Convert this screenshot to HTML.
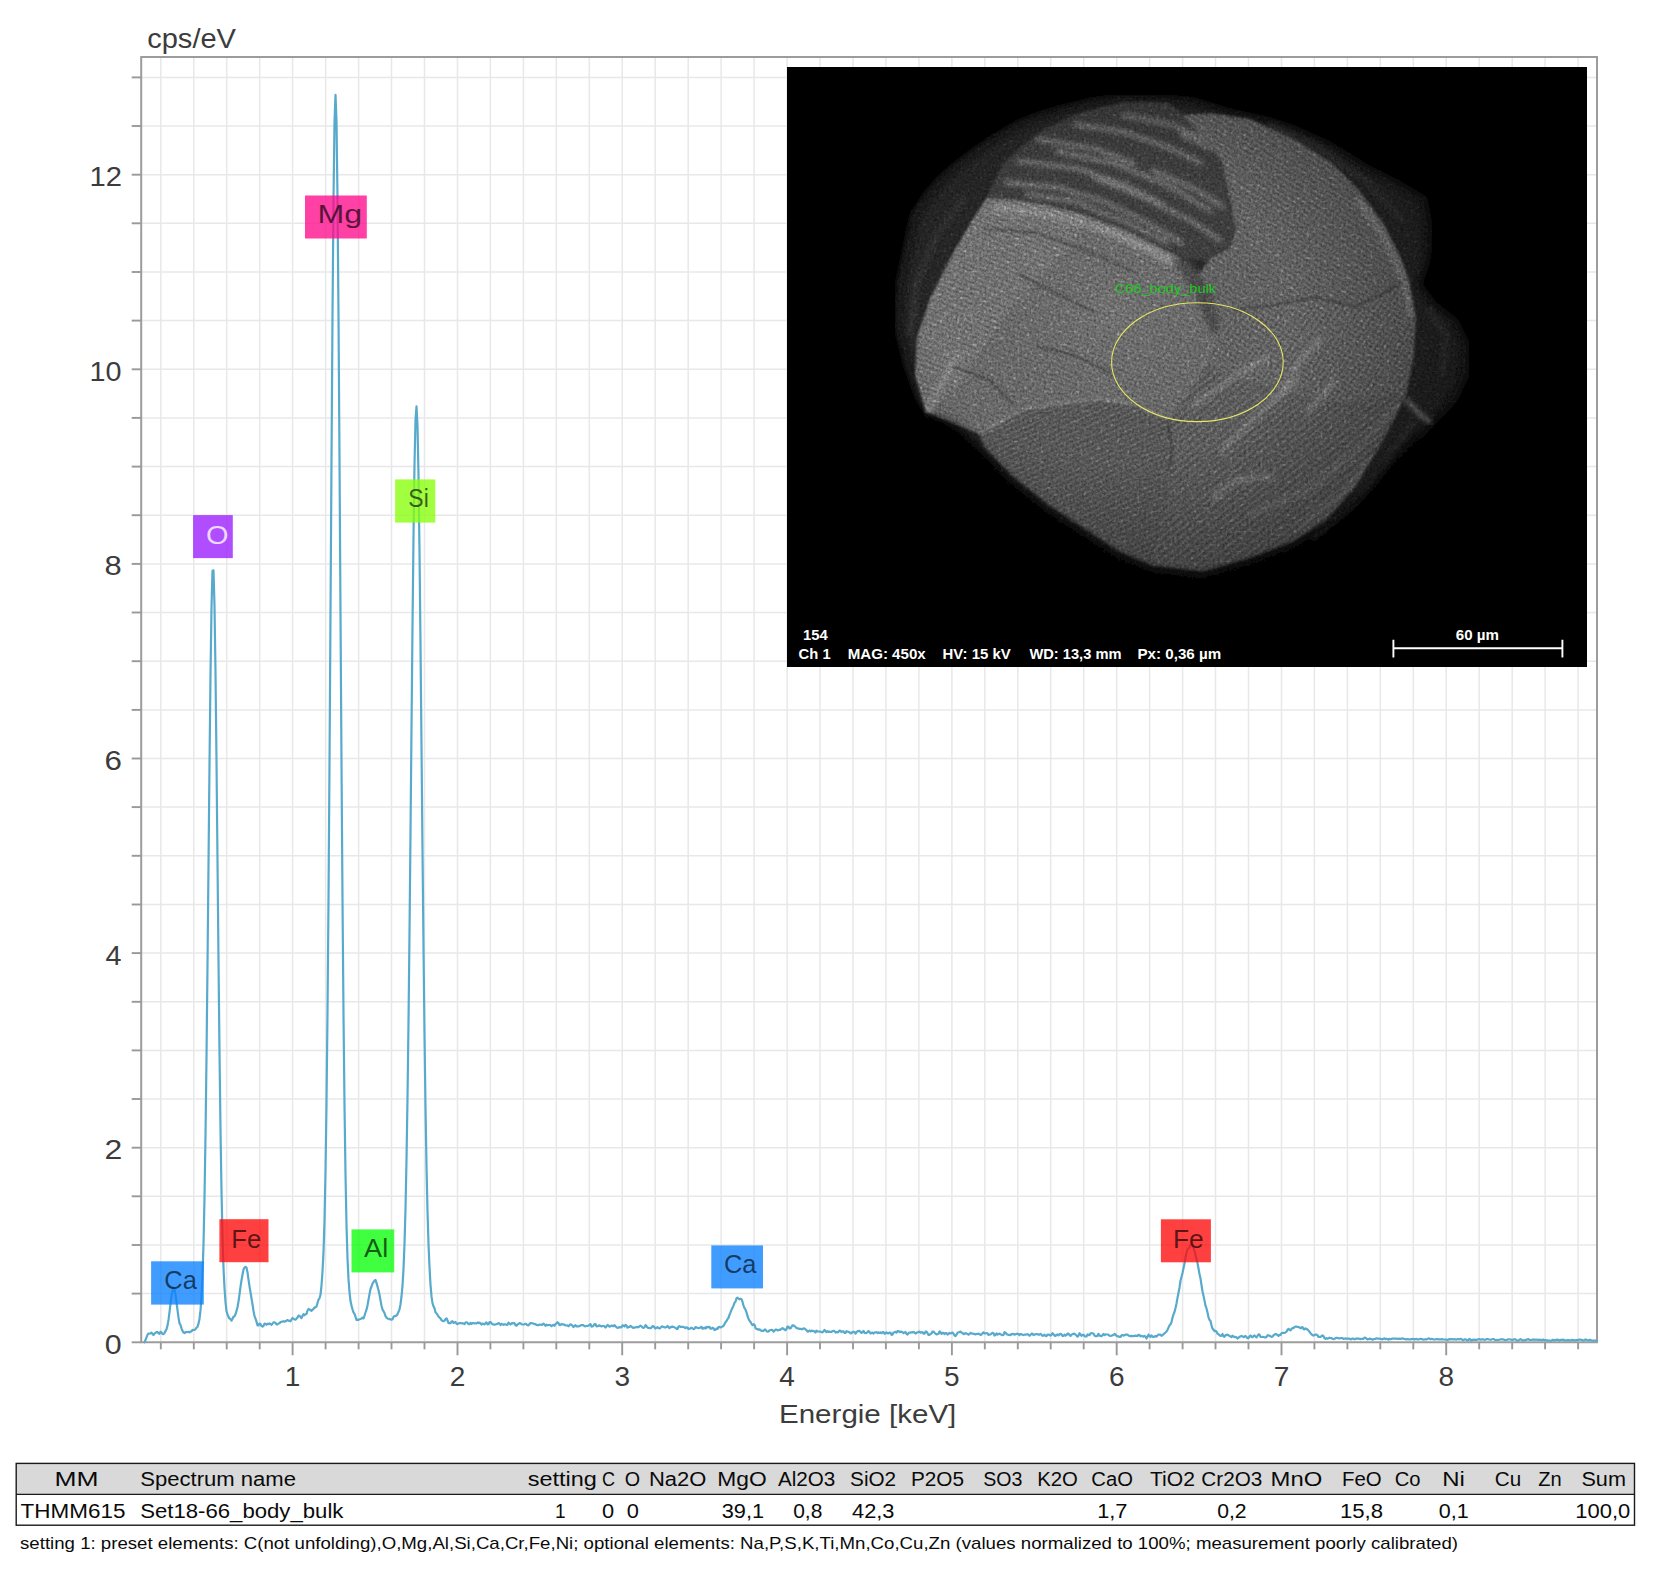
<!DOCTYPE html>
<html lang="de"><head><meta charset="utf-8"><title>EDS Spektrum Set18-66_body_bulk</title>
<style>
html,body{margin:0;padding:0;background:#fff;}
body{width:1662px;height:1590px;overflow:hidden;font-family:"Liberation Sans", sans-serif;}
svg{display:block;}
text{font-family:"Liberation Sans", sans-serif;}
.ax{fill:#3c3c3c;}
.tb{fill:#0a0a0a;}
.sem{fill:#fff;font-weight:bold;}
</style></head><body>
<svg width="1662" height="1590" viewBox="0 0 1662 1590">
<rect x="0" y="0" width="1662" height="1590" fill="#fff"/>

<g id="grid" stroke="#e8e8e8" stroke-width="1.5" fill="none">
<line x1="160.8" y1="57.0" x2="160.8" y2="1342.3"/>
<line x1="193.8" y1="57.0" x2="193.8" y2="1342.3"/>
<line x1="226.7" y1="57.0" x2="226.7" y2="1342.3"/>
<line x1="259.7" y1="57.0" x2="259.7" y2="1342.3"/>
<line x1="292.6" y1="57.0" x2="292.6" y2="1342.3"/>
<line x1="325.6" y1="57.0" x2="325.6" y2="1342.3"/>
<line x1="358.6" y1="57.0" x2="358.6" y2="1342.3"/>
<line x1="391.5" y1="57.0" x2="391.5" y2="1342.3"/>
<line x1="424.5" y1="57.0" x2="424.5" y2="1342.3"/>
<line x1="457.5" y1="57.0" x2="457.5" y2="1342.3"/>
<line x1="490.4" y1="57.0" x2="490.4" y2="1342.3"/>
<line x1="523.4" y1="57.0" x2="523.4" y2="1342.3"/>
<line x1="556.3" y1="57.0" x2="556.3" y2="1342.3"/>
<line x1="589.3" y1="57.0" x2="589.3" y2="1342.3"/>
<line x1="622.2" y1="57.0" x2="622.2" y2="1342.3"/>
<line x1="655.2" y1="57.0" x2="655.2" y2="1342.3"/>
<line x1="688.2" y1="57.0" x2="688.2" y2="1342.3"/>
<line x1="721.1" y1="57.0" x2="721.1" y2="1342.3"/>
<line x1="754.1" y1="57.0" x2="754.1" y2="1342.3"/>
<line x1="787.1" y1="57.0" x2="787.1" y2="1342.3"/>
<line x1="820.0" y1="57.0" x2="820.0" y2="1342.3"/>
<line x1="853.0" y1="57.0" x2="853.0" y2="1342.3"/>
<line x1="885.9" y1="57.0" x2="885.9" y2="1342.3"/>
<line x1="918.9" y1="57.0" x2="918.9" y2="1342.3"/>
<line x1="951.9" y1="57.0" x2="951.9" y2="1342.3"/>
<line x1="984.8" y1="57.0" x2="984.8" y2="1342.3"/>
<line x1="1017.8" y1="57.0" x2="1017.8" y2="1342.3"/>
<line x1="1050.7" y1="57.0" x2="1050.7" y2="1342.3"/>
<line x1="1083.7" y1="57.0" x2="1083.7" y2="1342.3"/>
<line x1="1116.7" y1="57.0" x2="1116.7" y2="1342.3"/>
<line x1="1149.6" y1="57.0" x2="1149.6" y2="1342.3"/>
<line x1="1182.6" y1="57.0" x2="1182.6" y2="1342.3"/>
<line x1="1215.5" y1="57.0" x2="1215.5" y2="1342.3"/>
<line x1="1248.5" y1="57.0" x2="1248.5" y2="1342.3"/>
<line x1="1281.5" y1="57.0" x2="1281.5" y2="1342.3"/>
<line x1="1314.4" y1="57.0" x2="1314.4" y2="1342.3"/>
<line x1="1347.4" y1="57.0" x2="1347.4" y2="1342.3"/>
<line x1="1380.3" y1="57.0" x2="1380.3" y2="1342.3"/>
<line x1="1413.3" y1="57.0" x2="1413.3" y2="1342.3"/>
<line x1="1446.2" y1="57.0" x2="1446.2" y2="1342.3"/>
<line x1="1479.2" y1="57.0" x2="1479.2" y2="1342.3"/>
<line x1="1512.2" y1="57.0" x2="1512.2" y2="1342.3"/>
<line x1="1545.1" y1="57.0" x2="1545.1" y2="1342.3"/>
<line x1="1578.1" y1="57.0" x2="1578.1" y2="1342.3"/>
<line x1="141.2" y1="1293.6" x2="1597.0" y2="1293.6"/>
<line x1="141.2" y1="1245.0" x2="1597.0" y2="1245.0"/>
<line x1="141.2" y1="1196.3" x2="1597.0" y2="1196.3"/>
<line x1="141.2" y1="1147.7" x2="1597.0" y2="1147.7"/>
<line x1="141.2" y1="1099.0" x2="1597.0" y2="1099.0"/>
<line x1="141.2" y1="1050.4" x2="1597.0" y2="1050.4"/>
<line x1="141.2" y1="1001.8" x2="1597.0" y2="1001.8"/>
<line x1="141.2" y1="953.1" x2="1597.0" y2="953.1"/>
<line x1="141.2" y1="904.5" x2="1597.0" y2="904.5"/>
<line x1="141.2" y1="855.8" x2="1597.0" y2="855.8"/>
<line x1="141.2" y1="807.1" x2="1597.0" y2="807.1"/>
<line x1="141.2" y1="758.5" x2="1597.0" y2="758.5"/>
<line x1="141.2" y1="709.9" x2="1597.0" y2="709.9"/>
<line x1="141.2" y1="661.2" x2="1597.0" y2="661.2"/>
<line x1="141.2" y1="612.5" x2="1597.0" y2="612.5"/>
<line x1="141.2" y1="563.9" x2="1597.0" y2="563.9"/>
<line x1="141.2" y1="515.2" x2="1597.0" y2="515.2"/>
<line x1="141.2" y1="466.6" x2="1597.0" y2="466.6"/>
<line x1="141.2" y1="417.9" x2="1597.0" y2="417.9"/>
<line x1="141.2" y1="369.3" x2="1597.0" y2="369.3"/>
<line x1="141.2" y1="320.6" x2="1597.0" y2="320.6"/>
<line x1="141.2" y1="272.0" x2="1597.0" y2="272.0"/>
<line x1="141.2" y1="223.3" x2="1597.0" y2="223.3"/>
<line x1="141.2" y1="174.7" x2="1597.0" y2="174.7"/>
<line x1="141.2" y1="126.0" x2="1597.0" y2="126.0"/>
<line x1="141.2" y1="77.4" x2="1597.0" y2="77.4"/>
</g>
<g id="ticks" stroke="#999" stroke-width="1.9" fill="none">
<line x1="160.8" y1="1342.3" x2="160.8" y2="1349.3"/>
<line x1="193.8" y1="1342.3" x2="193.8" y2="1349.3"/>
<line x1="226.7" y1="1342.3" x2="226.7" y2="1349.3"/>
<line x1="259.7" y1="1342.3" x2="259.7" y2="1349.3"/>
<line x1="292.6" y1="1342.3" x2="292.6" y2="1355.3"/>
<line x1="325.6" y1="1342.3" x2="325.6" y2="1349.3"/>
<line x1="358.6" y1="1342.3" x2="358.6" y2="1349.3"/>
<line x1="391.5" y1="1342.3" x2="391.5" y2="1349.3"/>
<line x1="424.5" y1="1342.3" x2="424.5" y2="1349.3"/>
<line x1="457.5" y1="1342.3" x2="457.5" y2="1355.3"/>
<line x1="490.4" y1="1342.3" x2="490.4" y2="1349.3"/>
<line x1="523.4" y1="1342.3" x2="523.4" y2="1349.3"/>
<line x1="556.3" y1="1342.3" x2="556.3" y2="1349.3"/>
<line x1="589.3" y1="1342.3" x2="589.3" y2="1349.3"/>
<line x1="622.2" y1="1342.3" x2="622.2" y2="1355.3"/>
<line x1="655.2" y1="1342.3" x2="655.2" y2="1349.3"/>
<line x1="688.2" y1="1342.3" x2="688.2" y2="1349.3"/>
<line x1="721.1" y1="1342.3" x2="721.1" y2="1349.3"/>
<line x1="754.1" y1="1342.3" x2="754.1" y2="1349.3"/>
<line x1="787.1" y1="1342.3" x2="787.1" y2="1355.3"/>
<line x1="820.0" y1="1342.3" x2="820.0" y2="1349.3"/>
<line x1="853.0" y1="1342.3" x2="853.0" y2="1349.3"/>
<line x1="885.9" y1="1342.3" x2="885.9" y2="1349.3"/>
<line x1="918.9" y1="1342.3" x2="918.9" y2="1349.3"/>
<line x1="951.9" y1="1342.3" x2="951.9" y2="1355.3"/>
<line x1="984.8" y1="1342.3" x2="984.8" y2="1349.3"/>
<line x1="1017.8" y1="1342.3" x2="1017.8" y2="1349.3"/>
<line x1="1050.7" y1="1342.3" x2="1050.7" y2="1349.3"/>
<line x1="1083.7" y1="1342.3" x2="1083.7" y2="1349.3"/>
<line x1="1116.7" y1="1342.3" x2="1116.7" y2="1355.3"/>
<line x1="1149.6" y1="1342.3" x2="1149.6" y2="1349.3"/>
<line x1="1182.6" y1="1342.3" x2="1182.6" y2="1349.3"/>
<line x1="1215.5" y1="1342.3" x2="1215.5" y2="1349.3"/>
<line x1="1248.5" y1="1342.3" x2="1248.5" y2="1349.3"/>
<line x1="1281.5" y1="1342.3" x2="1281.5" y2="1355.3"/>
<line x1="1314.4" y1="1342.3" x2="1314.4" y2="1349.3"/>
<line x1="1347.4" y1="1342.3" x2="1347.4" y2="1349.3"/>
<line x1="1380.3" y1="1342.3" x2="1380.3" y2="1349.3"/>
<line x1="1413.3" y1="1342.3" x2="1413.3" y2="1349.3"/>
<line x1="1446.2" y1="1342.3" x2="1446.2" y2="1355.3"/>
<line x1="1479.2" y1="1342.3" x2="1479.2" y2="1349.3"/>
<line x1="1512.2" y1="1342.3" x2="1512.2" y2="1349.3"/>
<line x1="1545.1" y1="1342.3" x2="1545.1" y2="1349.3"/>
<line x1="1578.1" y1="1342.3" x2="1578.1" y2="1349.3"/>
<line x1="131.7" y1="1293.6" x2="141.2" y2="1293.6"/>
<line x1="131.7" y1="1245.0" x2="141.2" y2="1245.0"/>
<line x1="131.7" y1="1196.3" x2="141.2" y2="1196.3"/>
<line x1="131.7" y1="1147.7" x2="141.2" y2="1147.7"/>
<line x1="131.7" y1="1099.0" x2="141.2" y2="1099.0"/>
<line x1="131.7" y1="1050.4" x2="141.2" y2="1050.4"/>
<line x1="131.7" y1="1001.8" x2="141.2" y2="1001.8"/>
<line x1="131.7" y1="953.1" x2="141.2" y2="953.1"/>
<line x1="131.7" y1="904.5" x2="141.2" y2="904.5"/>
<line x1="131.7" y1="855.8" x2="141.2" y2="855.8"/>
<line x1="131.7" y1="807.1" x2="141.2" y2="807.1"/>
<line x1="131.7" y1="758.5" x2="141.2" y2="758.5"/>
<line x1="131.7" y1="709.9" x2="141.2" y2="709.9"/>
<line x1="131.7" y1="661.2" x2="141.2" y2="661.2"/>
<line x1="131.7" y1="612.5" x2="141.2" y2="612.5"/>
<line x1="131.7" y1="563.9" x2="141.2" y2="563.9"/>
<line x1="131.7" y1="515.2" x2="141.2" y2="515.2"/>
<line x1="131.7" y1="466.6" x2="141.2" y2="466.6"/>
<line x1="131.7" y1="417.9" x2="141.2" y2="417.9"/>
<line x1="131.7" y1="369.3" x2="141.2" y2="369.3"/>
<line x1="131.7" y1="320.6" x2="141.2" y2="320.6"/>
<line x1="131.7" y1="272.0" x2="141.2" y2="272.0"/>
<line x1="131.7" y1="223.3" x2="141.2" y2="223.3"/>
<line x1="131.7" y1="174.7" x2="141.2" y2="174.7"/>
<line x1="131.7" y1="126.0" x2="141.2" y2="126.0"/>
<line x1="131.7" y1="77.4" x2="141.2" y2="77.4"/>
<line x1="131.7" y1="1342.3" x2="141.2" y2="1342.3"/>
</g>
<path d="M141.2 1342.3V57.0H1597.0V1342.3" fill="none" stroke="#9c9c9c" stroke-width="2"/>
<line x1="140.2" y1="1342.3" x2="1598.0" y2="1342.3" stroke="#9c9c9c" stroke-width="2"/>
<text x="147.2" y="47.9" font-size="27" class="ax" text-anchor="start" textLength="88.8" lengthAdjust="spacingAndGlyphs">cps/eV</text>
<text x="779.0" y="1423.1" font-size="26.5" class="ax" text-anchor="start" textLength="177.3" lengthAdjust="spacingAndGlyphs">Energie [keV]</text>
<text x="104.8" y="1353.7" font-size="28" class="ax" text-anchor="start" textLength="16.9" lengthAdjust="spacingAndGlyphs">0</text>
<text x="104.4" y="1159.1" font-size="28" class="ax" text-anchor="start" textLength="17.8" lengthAdjust="spacingAndGlyphs">2</text>
<text x="105.4" y="964.5" font-size="28" class="ax" text-anchor="start" textLength="16.0" lengthAdjust="spacingAndGlyphs">4</text>
<text x="104.4" y="769.9" font-size="28" class="ax" text-anchor="start" textLength="17.4" lengthAdjust="spacingAndGlyphs">6</text>
<text x="104.6" y="575.3" font-size="28" class="ax" text-anchor="start" textLength="17.2" lengthAdjust="spacingAndGlyphs">8</text>
<text x="89.6" y="380.7" font-size="28" class="ax" text-anchor="start" textLength="32.0" lengthAdjust="spacingAndGlyphs">10</text>
<text x="89.6" y="186.1" font-size="28" class="ax" text-anchor="start" textLength="32.5" lengthAdjust="spacingAndGlyphs">12</text>
<text x="292.6" y="1386.2" font-size="28" class="ax" text-anchor="middle">1</text>
<text x="457.5" y="1386.2" font-size="28" class="ax" text-anchor="middle">2</text>
<text x="622.2" y="1386.2" font-size="28" class="ax" text-anchor="middle">3</text>
<text x="787.1" y="1386.2" font-size="28" class="ax" text-anchor="middle">4</text>
<text x="951.9" y="1386.2" font-size="28" class="ax" text-anchor="middle">5</text>
<text x="1116.7" y="1386.2" font-size="28" class="ax" text-anchor="middle">6</text>
<text x="1281.5" y="1386.2" font-size="28" class="ax" text-anchor="middle">7</text>
<text x="1446.2" y="1386.2" font-size="28" class="ax" text-anchor="middle">8</text>
<path id="spectrum" d="M144.5 1342.3 145.5 1339.8 146.5 1337.3 147.5 1334.8 148.5 1333.5 149.5 1333.5 150.5 1333.5 151.5 1332.6 152.5 1333.9 153.5 1335.0 154.5 1333.7 155.5 1332.9 156.5 1332.2 157.5 1332.1 158.5 1333.2 159.5 1333.8 160.5 1331.8 161.5 1332.4 162.5 1334.0 163.5 1334.2 164.5 1332.9 165.5 1331.1 166.5 1329.3 167.5 1325.6 168.5 1319.9 169.5 1312.2 170.5 1303.5 171.5 1295.8 172.5 1291.4 173.5 1287.8 174.5 1289.3 175.5 1294.4 176.5 1302.1 177.5 1310.0 178.5 1317.5 179.5 1323.3 180.5 1324.9 181.5 1328.4 182.5 1330.8 183.5 1332.6 184.5 1333.1 185.5 1332.1 186.5 1332.1 187.5 1332.0 188.5 1331.8 189.5 1332.4 190.5 1331.6 191.5 1331.5 192.5 1329.9 193.5 1330.0 194.5 1329.8 195.5 1329.1 196.5 1327.7 197.5 1326.8 198.5 1323.7 199.5 1319.0 200.5 1310.4 201.5 1296.6 202.5 1275.8 203.5 1244.3 204.5 1197.5 205.5 1135.6 206.5 1057.4 207.5 965.2 208.5 864.6 209.5 764.2 210.5 674.8 211.5 607.2 212.5 570.7 213.5 570.3 214.5 606.0 215.5 672.6 216.5 761.3 217.5 860.8 218.5 960.7 219.5 1052.2 220.5 1129.8 221.5 1191.2 222.5 1236.3 223.5 1267.9 224.5 1287.9 225.5 1302.0 226.5 1311.2 227.5 1314.3 228.5 1316.9 229.5 1318.6 230.5 1319.1 231.5 1320.7 232.5 1318.8 233.5 1316.6 234.5 1316.4 235.5 1314.2 236.5 1310.9 237.5 1307.2 238.5 1301.6 239.5 1294.5 240.5 1286.9 241.5 1280.1 242.5 1274.7 243.5 1269.5 244.5 1267.6 245.5 1266.9 246.5 1267.7 247.5 1272.3 248.5 1279.6 249.5 1286.3 250.5 1292.2 251.5 1298.5 252.5 1304.1 253.5 1311.0 254.5 1316.1 255.5 1318.7 256.5 1321.6 257.5 1325.4 258.5 1325.4 259.5 1323.6 260.5 1324.1 261.5 1326.1 262.5 1326.6 263.5 1325.8 264.5 1323.7 265.5 1323.8 266.5 1324.8 267.5 1323.8 268.5 1324.1 269.5 1323.3 270.5 1324.0 271.5 1324.8 272.5 1323.7 273.5 1322.4 274.5 1322.4 275.5 1322.8 276.5 1324.3 277.5 1324.3 278.5 1323.5 279.5 1323.2 280.5 1322.1 281.5 1322.0 282.5 1321.5 283.5 1321.2 284.5 1321.7 285.5 1321.3 286.5 1320.7 287.5 1320.0 288.5 1320.6 289.5 1320.8 290.5 1321.3 291.5 1319.5 292.5 1318.0 293.5 1318.8 294.5 1319.4 295.5 1319.6 296.5 1318.6 297.5 1317.5 298.5 1315.7 299.5 1315.8 300.5 1317.0 301.5 1318.2 302.5 1315.8 303.5 1314.2 304.5 1315.3 305.5 1314.2 306.5 1313.9 307.5 1310.5 308.5 1309.0 309.5 1309.7 310.5 1309.8 311.5 1310.9 312.5 1309.7 313.5 1309.0 314.5 1307.3 315.5 1307.3 316.5 1306.5 317.5 1303.0 318.5 1299.6 319.5 1298.3 320.5 1294.8 321.5 1285.4 322.5 1271.6 323.5 1252.2 324.5 1220.6 325.5 1171.7 326.5 1104.0 327.5 1013.4 328.5 899.1 329.5 763.4 330.5 613.2 331.5 459.3 332.5 315.9 333.5 198.8 334.5 121.8 335.5 94.9 336.5 121.6 337.5 198.4 338.5 315.5 339.5 458.7 340.5 612.8 341.5 763.5 342.5 899.6 343.5 1014.5 344.5 1105.8 345.5 1174.3 346.5 1224.9 347.5 1258.3 348.5 1278.9 349.5 1292.0 350.5 1301.1 351.5 1305.6 352.5 1309.3 353.5 1312.3 354.5 1313.8 355.5 1316.7 356.5 1320.0 357.5 1319.6 358.5 1319.8 359.5 1319.3 360.5 1319.0 361.5 1318.6 362.5 1317.6 363.5 1318.3 364.5 1315.6 365.5 1312.5 366.5 1309.7 367.5 1305.4 368.5 1299.7 369.5 1294.1 370.5 1289.0 371.5 1286.5 372.5 1283.6 373.5 1282.1 374.5 1280.7 375.5 1280.0 376.5 1282.9 377.5 1286.4 378.5 1290.3 379.5 1294.6 380.5 1300.3 381.5 1305.7 382.5 1309.6 383.5 1311.2 384.5 1313.0 385.5 1316.1 386.5 1317.7 387.5 1318.4 388.5 1318.8 389.5 1319.2 390.5 1319.3 391.5 1319.7 392.5 1319.3 393.5 1316.9 394.5 1316.0 395.5 1316.1 396.5 1315.6 397.5 1314.1 398.5 1311.8 399.5 1309.3 400.5 1304.4 401.5 1296.5 402.5 1285.7 403.5 1268.9 404.5 1244.0 405.5 1208.8 406.5 1160.0 407.5 1098.3 408.5 1022.1 409.5 932.6 410.5 833.0 411.5 728.6 412.5 626.8 413.5 536.0 414.5 464.6 415.5 419.9 416.5 406.4 417.5 425.7 418.5 475.6 419.5 550.9 420.5 644.0 421.5 746.5 422.5 850.0 423.5 947.6 424.5 1034.4 425.5 1107.5 426.5 1166.2 427.5 1210.9 428.5 1244.1 429.5 1266.8 430.5 1284.6 431.5 1296.4 432.5 1303.1 433.5 1306.3 434.5 1308.3 435.5 1312.2 436.5 1313.4 437.5 1314.7 438.5 1316.5 439.5 1317.6 440.5 1318.4 441.5 1320.1 442.5 1320.9 443.5 1321.2 444.5 1320.6 445.5 1319.1 446.5 1318.3 447.5 1320.5 448.5 1323.2 449.5 1323.1 450.5 1323.1 451.5 1321.5 452.5 1321.2 453.5 1322.9 454.5 1322.5 455.5 1322.0 456.5 1323.8 457.5 1324.1 458.5 1323.4 459.5 1323.2 460.5 1323.0 461.5 1323.3 462.5 1323.2 463.5 1323.5 464.5 1324.1 465.5 1322.6 466.5 1322.3 467.5 1322.8 468.5 1324.2 469.5 1324.2 470.5 1322.9 471.5 1323.9 472.5 1323.2 473.5 1323.2 474.5 1323.3 475.5 1323.3 476.5 1323.4 477.5 1322.5 478.5 1323.2 479.5 1322.6 480.5 1323.4 481.5 1324.6 482.5 1323.5 483.5 1324.0 484.5 1324.4 485.5 1323.2 486.5 1322.4 487.5 1324.3 488.5 1324.2 489.5 1322.1 490.5 1322.0 491.5 1323.4 492.5 1324.3 493.5 1324.3 494.5 1324.7 495.5 1324.5 496.5 1324.1 497.5 1324.0 498.5 1323.1 499.5 1323.5 500.5 1325.0 501.5 1323.9 502.5 1324.2 503.5 1324.8 504.5 1324.3 505.5 1324.3 506.5 1324.9 507.5 1324.7 508.5 1322.6 509.5 1323.5 510.5 1324.5 511.5 1323.4 512.5 1323.1 513.5 1323.3 514.5 1323.2 515.5 1325.2 516.5 1325.7 517.5 1324.5 518.5 1323.8 519.5 1323.1 520.5 1323.3 521.5 1324.2 522.5 1324.4 523.5 1324.5 524.5 1324.3 525.5 1323.8 526.5 1324.3 527.5 1325.1 528.5 1325.4 529.5 1324.1 530.5 1323.1 531.5 1323.2 532.5 1323.4 533.5 1323.5 534.5 1324.2 535.5 1324.1 536.5 1325.0 537.5 1325.2 538.5 1325.2 539.5 1324.5 540.5 1324.7 541.5 1325.0 542.5 1324.5 543.5 1323.6 544.5 1324.6 545.5 1325.8 546.5 1324.6 547.5 1325.2 548.5 1325.0 549.5 1325.0 550.5 1325.2 551.5 1326.2 552.5 1325.2 553.5 1324.9 554.5 1325.8 555.5 1323.9 556.5 1323.5 557.5 1322.2 558.5 1323.1 559.5 1325.1 560.5 1325.1 561.5 1323.9 562.5 1324.3 563.5 1324.8 564.5 1324.5 565.5 1325.5 566.5 1325.5 567.5 1325.4 568.5 1326.3 569.5 1325.2 570.5 1324.3 571.5 1324.9 572.5 1325.8 573.5 1327.1 574.5 1325.9 575.5 1325.1 576.5 1326.5 577.5 1326.2 578.5 1326.5 579.5 1326.1 580.5 1325.3 581.5 1325.1 582.5 1325.1 583.5 1325.2 584.5 1326.2 585.5 1326.3 586.5 1326.0 587.5 1325.9 588.5 1325.5 589.5 1325.0 590.5 1324.1 591.5 1326.6 592.5 1326.5 593.5 1325.6 594.5 1324.2 595.5 1324.0 596.5 1326.4 597.5 1326.2 598.5 1325.9 599.5 1325.3 600.5 1326.0 601.5 1326.4 602.5 1326.0 603.5 1326.0 604.5 1326.3 605.5 1327.5 606.5 1326.5 607.5 1325.0 608.5 1325.5 609.5 1326.7 610.5 1326.3 611.5 1325.5 612.5 1325.9 613.5 1326.2 614.5 1325.1 615.5 1326.3 616.5 1327.1 617.5 1327.8 618.5 1327.6 619.5 1327.1 620.5 1327.3 621.5 1327.2 622.5 1325.4 623.5 1325.6 624.5 1326.5 625.5 1324.9 626.5 1325.4 627.5 1327.7 628.5 1327.0 629.5 1326.9 630.5 1325.8 631.5 1326.6 632.5 1327.5 633.5 1328.0 634.5 1327.3 635.5 1327.3 636.5 1327.2 637.5 1327.0 638.5 1327.3 639.5 1326.3 640.5 1325.6 641.5 1326.3 642.5 1327.4 643.5 1328.0 644.5 1327.2 645.5 1325.1 646.5 1326.1 647.5 1327.7 648.5 1327.8 649.5 1328.1 650.5 1328.2 651.5 1327.6 652.5 1326.1 653.5 1326.4 654.5 1327.4 655.5 1328.5 656.5 1327.7 657.5 1327.1 658.5 1328.1 659.5 1328.5 660.5 1327.8 661.5 1326.6 662.5 1326.4 663.5 1326.9 664.5 1327.5 665.5 1327.3 666.5 1327.2 667.5 1325.9 668.5 1327.2 669.5 1328.2 670.5 1326.8 671.5 1327.1 672.5 1326.6 673.5 1326.9 674.5 1327.5 675.5 1327.8 676.5 1328.8 677.5 1329.0 678.5 1326.6 679.5 1326.2 680.5 1327.0 681.5 1326.8 682.5 1326.9 683.5 1326.8 684.5 1327.5 685.5 1328.1 686.5 1327.3 687.5 1327.7 688.5 1329.0 689.5 1328.7 690.5 1328.4 691.5 1327.8 692.5 1328.2 693.5 1329.1 694.5 1328.8 695.5 1327.1 696.5 1327.4 697.5 1328.0 698.5 1328.1 699.5 1328.0 700.5 1327.4 701.5 1326.8 702.5 1328.8 703.5 1328.1 704.5 1327.7 705.5 1328.6 706.5 1326.8 707.5 1327.4 708.5 1327.1 709.5 1326.8 710.5 1328.7 711.5 1328.6 712.5 1327.7 713.5 1328.2 714.5 1330.1 715.5 1329.7 716.5 1328.5 717.5 1328.9 718.5 1327.1 719.5 1326.9 720.5 1327.5 721.5 1327.0 722.5 1326.6 723.5 1325.9 724.5 1324.1 725.5 1322.2 726.5 1321.0 727.5 1319.2 728.5 1317.8 729.5 1314.8 730.5 1312.4 731.5 1309.8 732.5 1307.7 733.5 1305.6 734.5 1302.8 735.5 1301.7 736.5 1298.4 737.5 1297.6 738.5 1298.5 739.5 1299.3 740.5 1298.8 741.5 1299.2 742.5 1301.8 743.5 1305.6 744.5 1308.2 745.5 1309.6 746.5 1312.4 747.5 1316.0 748.5 1318.7 749.5 1320.7 750.5 1322.0 751.5 1323.8 752.5 1325.2 753.5 1324.2 754.5 1324.7 755.5 1328.0 756.5 1329.0 757.5 1329.1 758.5 1329.8 759.5 1329.3 760.5 1330.0 761.5 1330.8 762.5 1330.9 763.5 1330.8 764.5 1329.7 765.5 1329.5 766.5 1331.2 767.5 1331.6 768.5 1331.4 769.5 1330.4 770.5 1330.0 771.5 1329.8 772.5 1330.0 773.5 1331.7 774.5 1330.8 775.5 1329.7 776.5 1329.5 777.5 1330.4 778.5 1330.1 779.5 1329.7 780.5 1329.8 781.5 1328.9 782.5 1328.1 783.5 1328.7 784.5 1329.6 785.5 1330.2 786.5 1329.0 787.5 1326.7 788.5 1326.6 789.5 1328.5 790.5 1328.5 791.5 1326.9 792.5 1325.4 793.5 1325.3 794.5 1326.2 795.5 1326.9 796.5 1328.0 797.5 1328.5 798.5 1328.4 799.5 1328.9 800.5 1328.8 801.5 1329.1 802.5 1329.1 803.5 1328.3 804.5 1328.5 805.5 1329.4 806.5 1330.2 807.5 1331.6 808.5 1331.4 809.5 1330.5 810.5 1331.4 811.5 1330.7 812.5 1330.9 813.5 1331.2 814.5 1331.4 815.5 1332.5 816.5 1330.6 817.5 1331.4 818.5 1331.5 819.5 1331.6 820.5 1331.7 821.5 1332.1 822.5 1332.3 823.5 1331.2 824.5 1329.9 825.5 1331.4 826.5 1332.1 827.5 1331.1 828.5 1331.8 829.5 1331.6 830.5 1332.0 831.5 1331.8 832.5 1331.2 833.5 1330.8 834.5 1331.0 835.5 1332.5 836.5 1332.0 837.5 1332.4 838.5 1331.9 839.5 1330.5 840.5 1330.8 841.5 1332.1 842.5 1331.4 843.5 1331.3 844.5 1332.8 845.5 1332.8 846.5 1331.2 847.5 1331.6 848.5 1332.1 849.5 1332.2 850.5 1333.4 851.5 1333.2 852.5 1332.1 853.5 1331.8 854.5 1332.1 855.5 1333.7 856.5 1332.3 857.5 1331.1 858.5 1331.1 859.5 1330.8 860.5 1331.9 861.5 1332.9 862.5 1332.3 863.5 1330.9 864.5 1332.7 865.5 1333.2 866.5 1332.9 867.5 1332.2 868.5 1331.0 869.5 1331.9 870.5 1333.4 871.5 1332.9 872.5 1332.5 873.5 1333.6 874.5 1332.5 875.5 1332.4 876.5 1332.2 877.5 1333.0 878.5 1332.3 879.5 1333.0 880.5 1332.4 881.5 1333.3 882.5 1332.4 883.5 1332.1 884.5 1333.8 885.5 1333.4 886.5 1332.4 887.5 1333.1 888.5 1333.4 889.5 1332.6 890.5 1332.6 891.5 1334.9 892.5 1334.4 893.5 1332.6 894.5 1332.3 895.5 1331.8 896.5 1332.7 897.5 1331.2 898.5 1331.0 899.5 1332.1 900.5 1331.8 901.5 1331.6 902.5 1332.3 903.5 1333.2 904.5 1332.4 905.5 1332.0 906.5 1334.0 907.5 1334.5 908.5 1333.1 909.5 1332.6 910.5 1332.6 911.5 1332.3 912.5 1332.5 913.5 1331.8 914.5 1332.6 915.5 1333.5 916.5 1332.9 917.5 1332.3 918.5 1332.1 919.5 1331.6 920.5 1332.7 921.5 1332.4 922.5 1332.2 923.5 1333.6 924.5 1333.7 925.5 1331.7 926.5 1331.6 927.5 1333.1 928.5 1335.0 929.5 1334.8 930.5 1334.0 931.5 1333.5 932.5 1331.5 933.5 1331.6 934.5 1332.7 935.5 1333.7 936.5 1334.5 937.5 1334.0 938.5 1333.7 939.5 1331.4 940.5 1332.2 941.5 1333.9 942.5 1332.8 943.5 1332.8 944.5 1334.2 945.5 1333.0 946.5 1333.0 947.5 1334.5 948.5 1333.8 949.5 1332.9 950.5 1333.4 951.5 1333.1 952.5 1332.6 953.5 1333.7 954.5 1335.3 955.5 1336.1 956.5 1334.7 957.5 1332.7 958.5 1332.3 959.5 1332.1 960.5 1331.6 961.5 1332.7 962.5 1332.9 963.5 1334.2 964.5 1333.9 965.5 1333.0 966.5 1333.5 967.5 1334.0 968.5 1334.7 969.5 1334.1 970.5 1332.8 971.5 1333.4 972.5 1333.5 973.5 1334.0 974.5 1333.9 975.5 1334.4 976.5 1334.0 977.5 1333.8 978.5 1333.7 979.5 1334.1 980.5 1335.0 981.5 1334.6 982.5 1333.3 983.5 1332.3 984.5 1333.4 985.5 1333.5 986.5 1333.0 987.5 1333.3 988.5 1334.9 989.5 1334.5 990.5 1334.5 991.5 1333.6 992.5 1332.9 993.5 1333.2 994.5 1335.5 995.5 1334.8 996.5 1333.3 997.5 1334.7 998.5 1334.0 999.5 1333.6 1000.5 1334.2 1001.5 1334.7 1002.5 1335.2 1003.5 1334.9 1004.5 1332.2 1005.5 1332.6 1006.5 1334.0 1007.5 1334.6 1008.5 1335.0 1009.5 1334.9 1010.5 1335.1 1011.5 1334.1 1012.5 1334.1 1013.5 1333.8 1014.5 1334.7 1015.5 1334.2 1016.5 1333.9 1017.5 1333.9 1018.5 1334.1 1019.5 1335.1 1020.5 1334.0 1021.5 1334.2 1022.5 1334.7 1023.5 1335.1 1024.5 1334.7 1025.5 1334.6 1026.5 1334.5 1027.5 1334.1 1028.5 1334.8 1029.5 1335.8 1030.5 1334.9 1031.5 1333.7 1032.5 1333.6 1033.5 1335.1 1034.5 1334.7 1035.5 1334.1 1036.5 1334.2 1037.5 1334.2 1038.5 1334.7 1039.5 1334.7 1040.5 1333.9 1041.5 1334.6 1042.5 1335.9 1043.5 1335.5 1044.5 1334.6 1045.5 1335.9 1046.5 1336.1 1047.5 1334.7 1048.5 1334.6 1049.5 1334.8 1050.5 1335.6 1051.5 1334.8 1052.5 1333.2 1053.5 1334.2 1054.5 1335.5 1055.5 1336.0 1056.5 1334.8 1057.5 1334.4 1058.5 1335.4 1059.5 1334.5 1060.5 1333.8 1061.5 1334.2 1062.5 1335.9 1063.5 1335.9 1064.5 1334.6 1065.5 1335.6 1066.5 1335.0 1067.5 1333.6 1068.5 1333.7 1069.5 1335.1 1070.5 1335.9 1071.5 1334.8 1072.5 1334.0 1073.5 1333.8 1074.5 1333.7 1075.5 1334.7 1076.5 1335.5 1077.5 1336.7 1078.5 1335.5 1079.5 1333.2 1080.5 1334.5 1081.5 1335.8 1082.5 1335.0 1083.5 1334.7 1084.5 1336.1 1085.5 1336.4 1086.5 1336.4 1087.5 1334.4 1088.5 1334.9 1089.5 1335.1 1090.5 1333.6 1091.5 1333.1 1092.5 1333.5 1093.5 1333.6 1094.5 1335.5 1095.5 1336.2 1096.5 1336.1 1097.5 1336.0 1098.5 1333.8 1099.5 1335.4 1100.5 1335.9 1101.5 1336.1 1102.5 1335.1 1103.5 1334.0 1104.5 1335.2 1105.5 1334.3 1106.5 1334.5 1107.5 1334.5 1108.5 1334.7 1109.5 1335.7 1110.5 1336.0 1111.5 1335.7 1112.5 1335.1 1113.5 1335.1 1114.5 1333.8 1115.5 1334.5 1116.5 1335.9 1117.5 1336.2 1118.5 1336.4 1119.5 1336.9 1120.5 1336.9 1121.5 1335.3 1122.5 1335.0 1123.5 1335.6 1124.5 1335.3 1125.5 1334.6 1126.5 1334.6 1127.5 1334.7 1128.5 1335.5 1129.5 1335.9 1130.5 1336.2 1131.5 1335.9 1132.5 1336.1 1133.5 1336.1 1134.5 1335.8 1135.5 1335.7 1136.5 1335.8 1137.5 1336.0 1138.5 1334.8 1139.5 1335.1 1140.5 1336.4 1141.5 1335.8 1142.5 1336.2 1143.5 1336.7 1144.5 1335.9 1145.5 1336.6 1146.5 1338.5 1147.5 1336.8 1148.5 1334.6 1149.5 1336.2 1150.5 1336.9 1151.5 1335.5 1152.5 1336.6 1153.5 1336.9 1154.5 1336.6 1155.5 1336.0 1156.5 1336.7 1157.5 1335.4 1158.5 1334.7 1159.5 1334.7 1160.5 1334.7 1161.5 1335.9 1162.5 1335.0 1163.5 1334.4 1164.5 1333.3 1165.5 1332.5 1166.5 1331.5 1167.5 1329.9 1168.5 1327.6 1169.5 1325.4 1170.5 1324.5 1171.5 1322.1 1172.5 1317.7 1173.5 1314.4 1174.5 1312.0 1175.5 1308.1 1176.5 1303.5 1177.5 1297.9 1178.5 1292.8 1179.5 1287.7 1180.5 1280.8 1181.5 1277.0 1182.5 1273.0 1183.5 1268.2 1184.5 1263.6 1185.5 1257.4 1186.5 1252.8 1187.5 1248.9 1188.5 1248.4 1189.5 1247.7 1190.5 1244.9 1191.5 1244.3 1192.5 1245.6 1193.5 1247.7 1194.5 1251.0 1195.5 1254.9 1196.5 1259.1 1197.5 1263.1 1198.5 1268.5 1199.5 1273.9 1200.5 1278.4 1201.5 1285.1 1202.5 1291.5 1203.5 1295.7 1204.5 1300.6 1205.5 1305.6 1206.5 1308.4 1207.5 1312.4 1208.5 1317.4 1209.5 1319.9 1210.5 1320.9 1211.5 1325.2 1212.5 1328.6 1213.5 1329.6 1214.5 1331.2 1215.5 1330.8 1216.5 1331.6 1217.5 1333.8 1218.5 1334.2 1219.5 1335.2 1220.5 1336.0 1221.5 1335.7 1222.5 1334.0 1223.5 1336.4 1224.5 1336.8 1225.5 1335.0 1226.5 1335.1 1227.5 1334.6 1228.5 1335.2 1229.5 1336.1 1230.5 1336.5 1231.5 1337.1 1232.5 1335.7 1233.5 1336.6 1234.5 1337.1 1235.5 1336.9 1236.5 1337.3 1237.5 1338.5 1238.5 1337.9 1239.5 1336.7 1240.5 1336.4 1241.5 1335.9 1242.5 1336.3 1243.5 1337.2 1244.5 1336.7 1245.5 1336.0 1246.5 1337.0 1247.5 1338.2 1248.5 1338.1 1249.5 1336.4 1250.5 1335.5 1251.5 1336.9 1252.5 1337.1 1253.5 1336.1 1254.5 1335.4 1255.5 1336.6 1256.5 1337.3 1257.5 1335.9 1258.5 1334.4 1259.5 1334.6 1260.5 1336.9 1261.5 1337.0 1262.5 1336.8 1263.5 1337.0 1264.5 1337.3 1265.5 1337.4 1266.5 1336.9 1267.5 1335.4 1268.5 1335.3 1269.5 1335.9 1270.5 1336.2 1271.5 1336.9 1272.5 1336.7 1273.5 1335.3 1274.5 1334.7 1275.5 1333.9 1276.5 1334.3 1277.5 1335.0 1278.5 1335.9 1279.5 1334.9 1280.5 1335.0 1281.5 1333.3 1282.5 1332.8 1283.5 1332.8 1284.5 1332.9 1285.5 1332.4 1286.5 1331.7 1287.5 1329.9 1288.5 1328.9 1289.5 1329.8 1290.5 1330.4 1291.5 1329.0 1292.5 1328.0 1293.5 1328.2 1294.5 1327.0 1295.5 1326.6 1296.5 1326.6 1297.5 1326.9 1298.5 1327.2 1299.5 1327.3 1300.5 1328.3 1301.5 1327.6 1302.5 1327.1 1303.5 1329.1 1304.5 1329.3 1305.5 1328.3 1306.5 1329.1 1307.5 1329.4 1308.5 1330.6 1309.5 1331.8 1310.5 1333.2 1311.5 1334.2 1312.5 1335.2 1313.5 1335.6 1314.5 1334.9 1315.5 1334.7 1316.5 1334.5 1317.5 1335.4 1318.5 1337.0 1319.5 1336.9 1320.5 1336.9 1321.5 1336.1 1322.5 1335.3 1323.5 1336.1 1324.5 1338.2 1325.5 1338.9 1326.5 1338.2 1327.5 1338.7 1328.5 1338.3 1329.5 1337.7 1330.5 1338.0 1331.5 1338.2 1332.5 1338.8 1333.5 1339.1 1334.5 1338.8 1335.5 1338.2 1336.5 1337.8 1337.5 1337.9 1338.5 1338.3 1339.5 1338.3 1340.5 1338.2 1341.5 1338.0 1342.5 1338.1 1343.5 1339.0 1344.5 1338.7 1345.5 1338.3 1346.5 1338.8 1347.5 1338.6 1348.5 1338.5 1349.5 1338.7 1350.5 1339.3 1351.5 1339.1 1352.5 1338.5 1353.5 1338.6 1354.5 1339.3 1355.5 1339.0 1356.5 1338.4 1357.5 1338.6 1358.5 1338.6 1359.5 1338.8 1360.5 1339.1 1361.5 1338.8 1362.5 1338.8 1363.5 1338.8 1364.5 1337.6 1365.5 1337.8 1366.5 1338.6 1367.5 1339.4 1368.5 1339.2 1369.5 1338.6 1370.5 1338.9 1371.5 1339.1 1372.5 1339.7 1373.5 1339.2 1374.5 1339.0 1375.5 1338.8 1376.5 1338.3 1377.5 1338.7 1378.5 1338.6 1379.5 1338.6 1380.5 1338.9 1381.5 1339.1 1382.5 1339.3 1383.5 1338.7 1384.5 1338.4 1385.5 1339.1 1386.5 1338.9 1387.5 1339.0 1388.5 1339.7 1389.5 1338.9 1390.5 1339.2 1391.5 1338.9 1392.5 1338.7 1393.5 1338.7 1394.5 1338.6 1395.5 1338.5 1396.5 1338.6 1397.5 1338.8 1398.5 1338.8 1399.5 1338.6 1400.5 1338.9 1401.5 1338.8 1402.5 1338.3 1403.5 1338.8 1404.5 1339.0 1405.5 1339.2 1406.5 1339.3 1407.5 1339.1 1408.5 1339.2 1409.5 1339.5 1410.5 1339.3 1411.5 1339.1 1412.5 1339.0 1413.5 1338.8 1414.5 1339.6 1415.5 1339.1 1416.5 1338.9 1417.5 1339.5 1418.5 1339.5 1419.5 1339.1 1420.5 1338.8 1421.5 1339.1 1422.5 1339.2 1423.5 1339.7 1424.5 1339.5 1425.5 1339.2 1426.5 1339.4 1427.5 1339.0 1428.5 1338.4 1429.5 1338.5 1430.5 1339.3 1431.5 1338.9 1432.5 1339.0 1433.5 1339.4 1434.5 1339.5 1435.5 1339.3 1436.5 1339.0 1437.5 1339.1 1438.5 1339.4 1439.5 1339.4 1440.5 1339.5 1441.5 1339.1 1442.5 1339.3 1443.5 1339.5 1444.5 1339.5 1445.5 1339.7 1446.5 1339.6 1447.5 1339.9 1448.5 1339.6 1449.5 1339.1 1450.5 1339.4 1451.5 1338.9 1452.5 1339.3 1453.5 1339.4 1454.5 1339.1 1455.5 1339.5 1456.5 1339.6 1457.5 1339.2 1458.5 1339.2 1459.5 1339.3 1460.5 1338.9 1461.5 1339.1 1462.5 1340.0 1463.5 1340.1 1464.5 1339.4 1465.5 1339.3 1466.5 1339.9 1467.5 1340.4 1468.5 1339.9 1469.5 1338.9 1470.5 1339.6 1471.5 1340.6 1472.5 1339.9 1473.5 1339.6 1474.5 1339.8 1475.5 1339.7 1476.5 1340.0 1477.5 1339.6 1478.5 1339.2 1479.5 1339.2 1480.5 1339.7 1481.5 1339.4 1482.5 1339.4 1483.5 1339.4 1484.5 1339.8 1485.5 1339.6 1486.5 1339.2 1487.5 1339.0 1488.5 1339.3 1489.5 1339.5 1490.5 1339.8 1491.5 1339.5 1492.5 1339.2 1493.5 1339.1 1494.5 1339.6 1495.5 1340.2 1496.5 1340.0 1497.5 1339.8 1498.5 1340.0 1499.5 1339.7 1500.5 1339.3 1501.5 1339.4 1502.5 1339.3 1503.5 1339.3 1504.5 1340.0 1505.5 1340.2 1506.5 1340.0 1507.5 1339.6 1508.5 1339.3 1509.5 1339.5 1510.5 1339.4 1511.5 1339.8 1512.5 1340.0 1513.5 1339.3 1514.5 1339.3 1515.5 1339.4 1516.5 1340.2 1517.5 1340.8 1518.5 1340.5 1519.5 1339.7 1520.5 1339.1 1521.5 1339.7 1522.5 1340.3 1523.5 1340.4 1524.5 1340.4 1525.5 1339.9 1526.5 1339.9 1527.5 1339.3 1528.5 1339.2 1529.5 1340.0 1530.5 1340.0 1531.5 1339.9 1532.5 1339.7 1533.5 1339.4 1534.5 1339.9 1535.5 1339.7 1536.5 1339.6 1537.5 1339.9 1538.5 1339.9 1539.5 1339.7 1540.5 1339.9 1541.5 1340.3 1542.5 1339.7 1543.5 1339.7 1544.5 1340.2 1545.5 1340.0 1546.5 1340.4 1547.5 1340.3 1548.5 1340.5 1549.5 1340.5 1550.5 1340.8 1551.5 1340.7 1552.5 1339.9 1553.5 1339.9 1554.5 1340.5 1555.5 1339.8 1556.5 1339.9 1557.5 1339.7 1558.5 1339.9 1559.5 1340.7 1560.5 1339.8 1561.5 1339.8 1562.5 1340.0 1563.5 1339.5 1564.5 1340.3 1565.5 1340.4 1566.5 1340.3 1567.5 1340.1 1568.5 1340.0 1569.5 1340.6 1570.5 1340.4 1571.5 1339.9 1572.5 1340.1 1573.5 1340.1 1574.5 1340.3 1575.5 1340.3 1576.5 1340.1 1577.5 1340.1 1578.5 1339.8 1579.5 1339.6 1580.5 1339.7 1581.5 1339.8 1582.5 1340.0 1583.5 1340.6 1584.5 1340.2 1585.5 1339.4 1586.5 1339.8 1587.5 1340.3 1588.5 1340.4 1589.5 1339.9 1590.5 1339.9 1591.5 1340.6 1592.5 1340.6 1593.5 1340.6 1594.5 1340.6 1595.5 1340.7 1596.5 1340.9" fill="none" stroke="#58aacc" stroke-width="2.2" stroke-linejoin="round" stroke-linecap="round"/>
<g id="labels">
<rect x="305.0" y="195.5" width="61.8" height="43.0" fill="#ff0a8c" fill-opacity="0.78"/>
<text x="317.43" y="223.3" font-size="26" fill="#2a0a1c" fill-opacity="0.78" textLength="44.66" lengthAdjust="spacingAndGlyphs">Mg</text>
<rect x="193.1" y="515.1" width="39.7" height="43.0" fill="#9a1cff" fill-opacity="0.78"/>
<text x="205.90" y="544.0" font-size="26" fill="#ffffff" fill-opacity="0.78" textLength="22.55" lengthAdjust="spacingAndGlyphs">O</text>
<rect x="395.1" y="479.4" width="40.2" height="43.2" fill="#86ff0a" fill-opacity="0.78"/>
<text x="408.36" y="507.0" font-size="26" fill="#24300a" fill-opacity="0.78" textLength="20.44" lengthAdjust="spacingAndGlyphs">Si</text>
<rect x="151.1" y="1261.3" width="52.7" height="43.3" fill="#0a82ff" fill-opacity="0.78"/>
<text x="164.32" y="1289.0" font-size="26" fill="#0a2038" fill-opacity="0.78" textLength="32.58" lengthAdjust="spacingAndGlyphs">Ca</text>
<rect x="219.4" y="1219.2" width="49.1" height="43.0" fill="#ff0a0a" fill-opacity="0.78"/>
<text x="231.25" y="1247.5" font-size="26" fill="#300a0a" fill-opacity="0.78" textLength="29.91" lengthAdjust="spacingAndGlyphs">Fe</text>
<rect x="351.5" y="1229.4" width="42.7" height="43.0" fill="#0aff0a" fill-opacity="0.78"/>
<text x="364.10" y="1257.4" font-size="26" fill="#0a300a" fill-opacity="0.78" textLength="24.07" lengthAdjust="spacingAndGlyphs">Al</text>
<rect x="711.3" y="1245.4" width="51.7" height="43.0" fill="#0a82ff" fill-opacity="0.78"/>
<text x="723.93" y="1272.7" font-size="26" fill="#0a2038" fill-opacity="0.78" textLength="32.47" lengthAdjust="spacingAndGlyphs">Ca</text>
<rect x="1160.9" y="1219.3" width="50.0" height="43.0" fill="#ff0a0a" fill-opacity="0.78"/>
<text x="1172.99" y="1248.0" font-size="26" fill="#300a0a" fill-opacity="0.78" textLength="30.69" lengthAdjust="spacingAndGlyphs">Fe</text>
</g>
<g id="sem" transform="translate(787,67)">
<defs>
<clipPath id="semclip"><rect x="0" y="0" width="800" height="600"/></clipPath>
<filter id="b1" x="-10%" y="-10%" width="120%" height="120%"><feGaussianBlur stdDeviation="1.2"/></filter>
<filter id="b2" x="-10%" y="-10%" width="120%" height="120%"><feGaussianBlur stdDeviation="2.5"/></filter>
<filter id="b4" x="-10%" y="-10%" width="120%" height="120%"><feGaussianBlur stdDeviation="4.5"/></filter>
<filter id="b9" x="-20%" y="-20%" width="140%" height="140%"><feGaussianBlur stdDeviation="10"/></filter>
<filter id="grain" x="0" y="0" width="100%" height="100%">
 <feTurbulence type="fractalNoise" baseFrequency="0.42" numOctaves="2" seed="3" result="n"/>
 <feColorMatrix in="n" type="matrix" values="1.5 0 0 0 -0.25  1.5 0 0 0 -0.25  1.5 0 0 0 -0.25  0 0 0 0 1" result="g"/>
 <feTurbulence type="fractalNoise" baseFrequency="0.3" numOctaves="1" seed="11" result="n2"/>
 <feColorMatrix in="n2" type="matrix" values="7 0 0 0 -4.35  7 0 0 0 -4.35  7 0 0 0 -4.35  0 0 0 0 1" result="dots"/>
 <feComposite in="SourceGraphic" in2="g" operator="arithmetic" k1="1.0" k2="0.5" k3="0" k4="0" result="tmp"/>
 <feComposite in="SourceGraphic" in2="dots" operator="arithmetic" k1="0.9" k2="0" k3="0" k4="0" result="sd"/>
 <feComposite in="tmp" in2="sd" operator="arithmetic" k1="0" k2="1" k3="1" k4="0"/>
</filter>
<pattern id="hA" width="5" height="5" patternUnits="userSpaceOnUse" patternTransform="rotate(22)"><rect width="5" height="1.4" fill="#000" fill-opacity="0.11"/><rect y="2.6" width="5" height="1" fill="#fff" fill-opacity="0.07"/></pattern>
<pattern id="hB" width="6" height="6" patternUnits="userSpaceOnUse" patternTransform="rotate(-38)"><rect width="6" height="1.6" fill="#fff" fill-opacity="0.08"/><rect y="3" width="6" height="1.2" fill="#000" fill-opacity="0.09"/></pattern>
<pattern id="hC" width="5" height="5" patternUnits="userSpaceOnUse" patternTransform="rotate(-24)"><rect width="5" height="1.3" fill="#fff" fill-opacity="0.07"/><rect y="2.5" width="5" height="1.2" fill="#000" fill-opacity="0.075"/></pattern>
<pattern id="hD" width="5" height="5" patternUnits="userSpaceOnUse" patternTransform="rotate(32)"><rect width="5" height="1.3" fill="#fff" fill-opacity="0.07"/><rect y="2.5" width="5" height="1.2" fill="#000" fill-opacity="0.075"/></pattern>
<pattern id="hE" width="5" height="5" patternUnits="userSpaceOnUse" patternTransform="rotate(-55)"><rect width="5" height="1.3" fill="#fff" fill-opacity="0.07"/><rect y="2.5" width="5" height="1.2" fill="#000" fill-opacity="0.075"/></pattern>
<radialGradient id="shade" cx="0.38" cy="0.45" r="0.62">
 <stop offset="0" stop-color="#fff" stop-opacity="0.05"/><stop offset="0.5" stop-color="#000" stop-opacity="0"/><stop offset="1" stop-color="#000" stop-opacity="0.35"/>
</radialGradient>
</defs>
<rect x="0" y="0" width="800" height="600" fill="#000"/>
<g clip-path="url(#semclip)"><g filter="url(#grain)">
<polygon points="333.6,28.4 380.3,29.8 405.8,32.3 440.9,43.3 481.3,52.0 508.3,61.1 543.9,77.0 561.3,87.6 582.4,101.1 609.4,114.1 638.3,130.9 643.1,157.4 642.6,182.9 640.7,195.9 633.5,217.6 647.9,236.8 669.6,253.7 681.6,277.7 680.1,309.0 669.1,332.1 657.5,345.1 633.5,369.2 604.6,398.1 580.5,427.0 546.8,455.8 508.3,479.9 465.0,496.8 414.0,511.2 365.8,505.4 329.7,491.0 293.6,467.4 257.5,443.8 221.4,414.9 194.0,386.0 167.0,361.0 140.1,349.0 130.0,332.1 117.9,298.4 108.3,259.9 109.7,216.6 112.2,205.5 117.9,178.1 124.2,147.8 137.2,127.6 153.1,109.3 170.9,93.9 189.2,80.4 207.0,68.4 227.7,56.3 250.3,47.2 275.8,39.5 303.2,32.7" fill="#1b1b1b" filter="url(#b2)"/>
<polygon points="335.7,36.8 380.8,38.2 405.4,40.6 439.3,51.2 478.3,59.6 504.3,68.4 538.7,83.8 555.4,94.0 575.9,107.0 601.9,119.5 629.7,135.8 634.4,161.3 633.9,185.9 632.1,198.5 625.1,219.4 639.0,238.0 659.9,254.2 671.5,277.5 670.2,307.6 659.5,329.9 648.3,342.5 625.1,365.7 597.2,393.6 574.0,421.4 541.5,449.3 504.3,472.5 462.5,488.8 413.3,502.7 366.8,497.2 332.0,483.2 297.2,460.5 262.3,437.7 227.5,409.8 201.0,382.0 175.0,357.8 149.0,346.2 139.2,329.9 127.6,297.4 118.3,260.3 119.7,218.5 122.0,207.8 127.6,181.3 133.7,152.0 146.2,132.5 161.5,114.9 178.7,100.0 196.4,87.0 213.5,75.4 233.5,63.8 255.4,55.0 280.0,47.5 306.5,41.0" fill="#282828" filter="url(#b2)"/>
<clipPath id="bodyclip"><polygon points="199.8,132.4 216.6,96.3 250.3,67.4 288.8,48.1 336.9,36.1 380.3,36.6 397.6,48.1 423.6,47.2 462.1,52.9 505.4,72.2 543.9,96.3 572.8,125.2 596.9,158.8 613.7,192.5 620.9,211.8 628.2,250.3 625.8,288.8 618.5,327.3 596.9,370.6 568.0,418.8 539.1,452.5 505.4,474.1 463.1,490.0 416.8,503.5 365.8,497.7 332.1,483.3 296.0,459.7 259.9,435.6 225.3,407.7 198.3,380.3 192.5,365.8 139.6,344.2 129.0,308.1 130.9,269.6 144.4,231.0 163.7,192.5 182.9,158.8"/></clipPath>
<clipPath id="uclip"><polygon points="199.8,132.4 216.6,96.3 250.3,67.4 288.8,48.1 336.9,36.1 380.3,36.6 397.6,49.1 418.8,72.2 435.6,94.3 445.2,134.8 450.1,163.7 442.8,182.9 423.6,192.5 389.9,190.1 365.8,178.1 336.9,163.7 298.4,149.2 259.9,139.6 226.2,133.8"/></clipPath>
<g filter="url(#b1)">
<polygon points="199.8,132.4 216.6,96.3 250.3,67.4 288.8,48.1 336.9,36.1 380.3,36.6 397.6,49.1 418.8,72.2 435.6,94.3 445.2,134.8 450.1,163.7 442.8,182.9 423.6,192.5 389.9,190.1 365.8,178.1 336.9,163.7 298.4,149.2 259.9,139.6 226.2,133.8" fill="#3c3c3c" stroke="#3c3c3c" stroke-width="2"/>
<polygon points="445.2,134.8 450.1,163.7 442.8,182.9 423.6,192.5 409.1,211.8 423.6,240.7 428.4,269.6 418.8,298.4 457.3,312.9 505.4,327.3 553.5,336.9 618.5,327.3 625.8,288.8 628.2,250.3 620.9,211.8 613.7,192.5 596.9,158.8 572.8,125.2 543.9,96.3 505.4,72.2 462.1,52.9 423.6,47.2 397.6,49.1 418.8,72.2 435.6,94.3" fill="#606060" stroke="#606060" stroke-width="2"/>
<polygon points="380.3,351.4 399.5,327.3 418.8,298.4 457.3,312.9 505.4,327.3 553.5,336.9 618.5,327.3 596.9,370.6 568.0,418.8 539.1,452.5 505.4,474.1 463.1,490.0 416.8,503.5 365.8,497.7 370.6,462.1 380.3,423.6 385.1,385.1" fill="#5a5a5a" stroke="#5a5a5a" stroke-width="2"/>
<polygon points="235.9,341.8 269.6,336.9 312.9,332.1 346.6,336.9 380.3,351.4 385.1,385.1 380.3,423.6 370.6,462.1 365.8,497.7 332.1,483.3 296.0,459.7 259.9,435.6 225.3,407.7 198.3,380.3 192.5,365.8 211.8,356.2" fill="#575757" stroke="#575757" stroke-width="2"/>
<polygon points="298.4,149.2 336.9,163.7 365.8,178.1 389.9,190.1 409.1,211.8 423.6,240.7 428.4,269.6 418.8,298.4 399.5,327.3 380.3,351.4 346.6,336.9 312.9,332.1 269.6,336.9 235.9,341.8 211.8,356.2 192.5,365.8 139.6,344.2 163.7,327.3 178.1,308.1 192.5,284.0 211.8,255.1 231.0,231.0 250.3,211.8 269.6,192.5 288.8,173.3" fill="#696969" stroke="#696969" stroke-width="2"/>
<polygon points="199.8,132.4 226.2,133.8 259.9,139.6 298.4,149.2 288.8,173.3 269.6,192.5 250.3,211.8 231.0,231.0 211.8,255.1 192.5,284.0 178.1,308.1 163.7,327.3 139.6,344.2 129.0,308.1 130.9,269.6 144.4,231.0 163.7,192.5 182.9,158.8" fill="#727272" stroke="#727272" stroke-width="2"/>
</g>
<polygon points="199.8,132.4 226.2,133.8 259.9,139.6 298.4,149.2 288.8,173.3 269.6,192.5 250.3,211.8 231.0,231.0 211.8,255.1 192.5,284.0 178.1,308.1 163.7,327.3 139.6,344.2 129.0,308.1 130.9,269.6 144.4,231.0 163.7,192.5 182.9,158.8" fill="url(#hA)"/>
<polygon points="298.4,149.2 336.9,163.7 365.8,178.1 389.9,190.1 409.1,211.8 423.6,240.7 428.4,269.6 418.8,298.4 399.5,327.3 380.3,351.4 346.6,336.9 312.9,332.1 269.6,336.9 235.9,341.8 211.8,356.2 192.5,365.8 139.6,344.2 163.7,327.3 178.1,308.1 192.5,284.0 211.8,255.1 231.0,231.0 250.3,211.8 269.6,192.5 288.8,173.3" fill="url(#hA)" opacity="0.6"/>
<polygon points="235.9,341.8 269.6,336.9 312.9,332.1 346.6,336.9 380.3,351.4 385.1,385.1 380.3,423.6 370.6,462.1 365.8,497.7 332.1,483.3 296.0,459.7 259.9,435.6 225.3,407.7 198.3,380.3 192.5,365.8 211.8,356.2" fill="url(#hC)"/>
<polygon points="380.3,351.4 399.5,327.3 418.8,298.4 457.3,312.9 505.4,327.3 553.5,336.9 618.5,327.3 596.9,370.6 568.0,418.8 539.1,452.5 505.4,474.1 463.1,490.0 416.8,503.5 365.8,497.7 370.6,462.1 380.3,423.6 385.1,385.1" fill="url(#hB)"/>
<polygon points="445.2,134.8 450.1,163.7 442.8,182.9 423.6,192.5 409.1,211.8 423.6,240.7 428.4,269.6 418.8,298.4 457.3,312.9 505.4,327.3 553.5,336.9 618.5,327.3 625.8,288.8 628.2,250.3 620.9,211.8 613.7,192.5 596.9,158.8 572.8,125.2 543.9,96.3 505.4,72.2 462.1,52.9 423.6,47.2 397.6,49.1 418.8,72.2 435.6,94.3" fill="url(#hD)"/>
<polygon points="418.8,298.4 457.3,312.9 505.4,327.3 553.5,336.9 618.5,327.3 625.8,288.8 628.2,250.3 620.9,211.8 568.0,239.7 529.5,230.1 486.2,238.3 445.2,243.1 428.4,269.6" fill="url(#hE)"/>
<g clip-path="url(#uclip)"><g filter="url(#b2)" stroke="#858585" stroke-width="4.5" fill="none" stroke-linecap="round" stroke-opacity="0.8">
<path d="M250.3 72.2 L308.1 81.8 L346.6 96.3"/>
<path d="M231.0 93.9 L288.8 101.1 L336.9 117.9 L375.5 137.2"/>
<path d="M219.0 115.5 L269.6 120.3 L317.7 134.8 L365.8 158.8 L394.7 175.7"/>
<path d="M288.8 57.8 L336.9 65.0 L385.1 81.8 L414.0 96.3"/>
<path d="M269.6 84.2 L327.3 96.3 L380.3 117.9 L423.6 144.4"/>
<path d="M336.9 48.1 L385.1 57.8 L418.8 72.2"/>
<path d="M308.1 110.7 L356.2 130.0 L404.3 154.0 L433.2 173.3"/>
<path d="M240.7 127.6 L288.8 134.8 L336.9 154.0 L380.3 175.7"/>
<path d="M365.8 103.5 L409.1 122.7 L435.6 139.6"/>
<path d="M394.7 67.4 L423.6 81.8"/>
</g></g>
<g clip-path="url(#bodyclip)">
<polygon points="385.1,190.1 404.3,194.9 423.6,226.2 433.2,259.9 426.0,269.6 409.1,231.0" fill="#4a4a4a" filter="url(#b2)"/>
<g filter="url(#b1)" stroke="#3c3c3c" fill="none" stroke-width="1.6">
<path d="M445.2 243.1 L486.2 238.3 L529.5 230.1 L568.0 239.7 L596.9 226.2 L620.9 211.8"/>
<path d="M197.4 161.3 L250.3 166.1 L298.4 182.9 L346.6 204.6"/>
<path d="M231.0 207.0 L269.6 226.2 L308.1 245.5"/>
<path d="M250.3 279.2 L288.8 288.8 L327.3 308.1"/>
<path d="M380.3 353.8 L385.1 380.3 L382.7 404.3"/>
<path d="M163.7 298.4 L202.2 312.9 L226.2 336.9"/>
</g>
<g filter="url(#b2)" stroke="#8c8c8c" fill="none" stroke-width="4" stroke-opacity="0.8">
<path d="M404.3 339.4 L442.8 312.9 L481.3 288.8"/>
<path d="M433.2 385.1 L471.7 346.6 L510.2 312.9"/>
<path d="M423.6 433.2 L447.7 414.0 L486.2 409.1"/>
<path d="M486.2 336.9 L510.2 298.4 L534.3 269.6"/>
<path d="M308.1 158.8 L356.2 179.1 L385.1 192.5"/>
<path d="M519.9 346.6 L548.7 312.9"/>
</g>
<g filter="url(#b2)" stroke="#9a9a9a" fill="none" stroke-opacity="0.55">
<path d="M207.0 140.6 L259.9 146.3 L298.4 156.0 L336.9 170.4 L365.8 184.8 L385.1 196.4" stroke-width="7"/>
<path d="M570.4 132.4 L594.5 166.1 L610.3 197.4 L618.1 216.6 L623.8 250.3" stroke-width="6"/>
<path d="M144.4 336.9 L158.8 308.1 L173.3 284.0" stroke-width="5"/>
</g>
<circle cx="142.5" cy="342.7" r="5" fill="#a0a0a0" fill-opacity="0.6" filter="url(#b2)"/>
<path d="M192.5 365.8 L211.8 356.2 L235.9 342.7 L269.6 336.9 L312.9 332.1 L346.6 336.9 L380.3 351.4" stroke="#808080" stroke-width="2" fill="none" filter="url(#b1)"/>
<g filter="url(#b2)" stroke="#7a7a7a" fill="none" stroke-width="4" stroke-opacity="0.7">
<path d="M611.3 336.9 L568.0 385.1 L519.9 423.6 L462.1 447.7"/>
<path d="M592.1 385.1 L553.5 428.4 L510.2 462.1"/>
</g>
</g>
<g filter="url(#b2)" stroke="#3a3a3a" fill="none" stroke-width="5" stroke-opacity="0.7">
<path d="M625.8 356.2 L596.9 399.5 L563.2 440.4 L524.7 471.7"/>
<path d="M122.7 269.6 L130.0 216.6 L149.2 168.5 L178.1 130.0"/>
<path d="M481.3 57.8 L529.5 79.4 L577.6 113.1 L616.1 154.0"/>
<path d="M640.2 240.7 L659.4 269.6 L654.6 308.1"/>
</g>
<path d="M618.5 332.1 L633.0 347.5 L644.0 355.2" stroke="#8a8a8a" stroke-width="5" stroke-opacity="0.8" fill="none" filter="url(#b2)"/>
<path d="M140.1 350.4 L167.0 362.9 L194.0 388.0 L221.4 416.8 L257.5 445.7 L293.6 469.3 L329.7 492.9 L365.8 507.3 L414.0 513.1 L465.0 498.7 L508.3 481.8 L546.8 457.8 L580.5 428.9 L604.6 400.0 L633.5 371.1" stroke="#000" stroke-opacity="0.5" stroke-width="12" fill="none" filter="url(#b4)"/>
<polygon points="333.6,28.4 380.3,29.8 405.8,32.3 440.9,43.3 481.3,52.0 508.3,61.1 543.9,77.0 561.3,87.6 582.4,101.1 609.4,114.1 638.3,130.9 643.1,157.4 642.6,182.9 640.7,195.9 633.5,217.6 647.9,236.8 669.6,253.7 681.6,277.7 680.1,309.0 669.1,332.1 657.5,345.1 633.5,369.2 604.6,398.1 580.5,427.0 546.8,455.8 508.3,479.9 465.0,496.8 414.0,511.2 365.8,505.4 329.7,491.0 293.6,467.4 257.5,443.8 221.4,414.9 194.0,386.0 167.0,361.0 140.1,349.0 130.0,332.1 117.9,298.4 108.3,259.9 109.7,216.6 112.2,205.5 117.9,178.1 124.2,147.8 137.2,127.6 153.1,109.3 170.9,93.9 189.2,80.4 207.0,68.4 227.7,56.3 250.3,47.2 275.8,39.5 303.2,32.7" fill="url(#shade)"/>
</g></g>
<ellipse cx="410.4" cy="295.2" rx="85.8" ry="59.4" fill="none" stroke="#e6e664" stroke-width="1.1"/>
<text x="327.77" y="225.9" font-size="13.5" fill="#20c820" textLength="101.33" lengthAdjust="spacingAndGlyphs">C66_body_bulk</text>
<text x="15.91" y="572.8" font-size="13.8" class="sem" textLength="24.77" lengthAdjust="spacingAndGlyphs">154</text>
<text x="11.61" y="592.1" font-size="13.9" class="sem" textLength="32.06" lengthAdjust="spacingAndGlyphs">Ch 1</text>
<text x="60.72" y="592.1" font-size="13.9" class="sem" textLength="77.96" lengthAdjust="spacingAndGlyphs">MAG: 450x</text>
<text x="155.54" y="592.1" font-size="13.9" class="sem" textLength="68.22" lengthAdjust="spacingAndGlyphs">HV: 15 kV</text>
<text x="242.40" y="592.1" font-size="13.9" class="sem" textLength="92.08" lengthAdjust="spacingAndGlyphs">WD: 13,3 mm</text>
<text x="350.52" y="592.1" font-size="13.9" class="sem" textLength="83.69" lengthAdjust="spacingAndGlyphs">Px: 0,36 µm</text>
<text x="668.87" y="573.4" font-size="14" class="sem" textLength="43.14" lengthAdjust="spacingAndGlyphs">60 µm</text>
<path d="M606.4 572.7V590.4M606.4 581.3H775.4M775.4 572.7V590.4" fill="none" stroke="#fff" stroke-width="1.9"/>
</g>
<g id="table">
<rect x="16.2" y="1463.4" width="1618.3" height="31" fill="#d9d9d9"/>
<rect x="16.2" y="1463.4" width="1618.3" height="61.8" fill="none" stroke="#1a1a1a" stroke-width="1.4"/>
<line x1="16.2" y1="1494.4" x2="1634.5" y2="1494.4" stroke="#1a1a1a" stroke-width="1.4"/>
<text x="54.49" y="1486.4" font-size="20" class="tb" textLength="44.05" lengthAdjust="spacingAndGlyphs">MM</text>
<text x="140.21" y="1486.4" font-size="20" class="tb" textLength="155.79" lengthAdjust="spacingAndGlyphs">Spectrum name</text>
<text x="527.70" y="1486.4" font-size="20" class="tb" textLength="69.13" lengthAdjust="spacingAndGlyphs">setting</text>
<text x="601.89" y="1486.4" font-size="20" class="tb" textLength="13.04" lengthAdjust="spacingAndGlyphs">C</text>
<text x="624.81" y="1486.4" font-size="20" class="tb" textLength="15.37" lengthAdjust="spacingAndGlyphs">O</text>
<text x="648.94" y="1486.4" font-size="20" class="tb" textLength="57.36" lengthAdjust="spacingAndGlyphs">Na2O</text>
<text x="717.28" y="1486.4" font-size="20" class="tb" textLength="49.46" lengthAdjust="spacingAndGlyphs">MgO</text>
<text x="778.00" y="1486.4" font-size="20" class="tb" textLength="57.33" lengthAdjust="spacingAndGlyphs">Al2O3</text>
<text x="850.07" y="1486.4" font-size="20" class="tb" textLength="46.07" lengthAdjust="spacingAndGlyphs">SiO2</text>
<text x="910.94" y="1486.4" font-size="20" class="tb" textLength="53.09" lengthAdjust="spacingAndGlyphs">P2O5</text>
<text x="983.32" y="1486.4" font-size="20" class="tb" textLength="39.16" lengthAdjust="spacingAndGlyphs">SO3</text>
<text x="1037.17" y="1486.4" font-size="20" class="tb" textLength="40.64" lengthAdjust="spacingAndGlyphs">K2O</text>
<text x="1091.29" y="1486.4" font-size="20" class="tb" textLength="41.63" lengthAdjust="spacingAndGlyphs">CaO</text>
<text x="1149.98" y="1486.4" font-size="20" class="tb" textLength="44.94" lengthAdjust="spacingAndGlyphs">TiO2</text>
<text x="1201.36" y="1486.4" font-size="20" class="tb" textLength="60.96" lengthAdjust="spacingAndGlyphs">Cr2O3</text>
<text x="1270.59" y="1486.4" font-size="20" class="tb" textLength="51.70" lengthAdjust="spacingAndGlyphs">MnO</text>
<text x="1341.96" y="1486.4" font-size="20" class="tb" textLength="39.76" lengthAdjust="spacingAndGlyphs">FeO</text>
<text x="1394.69" y="1486.4" font-size="20" class="tb" textLength="25.82" lengthAdjust="spacingAndGlyphs">Co</text>
<text x="1442.28" y="1486.4" font-size="20" class="tb" textLength="22.58" lengthAdjust="spacingAndGlyphs">Ni</text>
<text x="1494.77" y="1486.4" font-size="20" class="tb" textLength="26.38" lengthAdjust="spacingAndGlyphs">Cu</text>
<text x="1538.30" y="1486.4" font-size="20" class="tb" textLength="23.41" lengthAdjust="spacingAndGlyphs">Zn</text>
<text x="1581.43" y="1486.4" font-size="20" class="tb" textLength="44.48" lengthAdjust="spacingAndGlyphs">Sum</text>
<text x="20.55" y="1517.6" font-size="20" class="tb" textLength="104.85" lengthAdjust="spacingAndGlyphs">THMM615</text>
<text x="140.20" y="1517.6" font-size="20" class="tb" textLength="203.20" lengthAdjust="spacingAndGlyphs">Set18-66_body_bulk</text>
<text x="555.07" y="1517.6" font-size="20" class="tb" textLength="10.59" lengthAdjust="spacingAndGlyphs">1</text>
<text x="601.92" y="1517.6" font-size="20" class="tb" textLength="12.14" lengthAdjust="spacingAndGlyphs">0</text>
<text x="626.83" y="1517.6" font-size="20" class="tb" textLength="12.14" lengthAdjust="spacingAndGlyphs">0</text>
<text x="721.73" y="1517.6" font-size="20" class="tb" textLength="42.35" lengthAdjust="spacingAndGlyphs">39,1</text>
<text x="793.16" y="1517.6" font-size="20" class="tb" textLength="29.18" lengthAdjust="spacingAndGlyphs">0,8</text>
<text x="852.06" y="1517.6" font-size="20" class="tb" textLength="42.41" lengthAdjust="spacingAndGlyphs">42,3</text>
<text x="1097.16" y="1517.6" font-size="20" class="tb" textLength="30.33" lengthAdjust="spacingAndGlyphs">1,7</text>
<text x="1217.15" y="1517.6" font-size="20" class="tb" textLength="29.40" lengthAdjust="spacingAndGlyphs">0,2</text>
<text x="1339.94" y="1517.6" font-size="20" class="tb" textLength="43.15" lengthAdjust="spacingAndGlyphs">15,8</text>
<text x="1438.84" y="1517.6" font-size="20" class="tb" textLength="29.93" lengthAdjust="spacingAndGlyphs">0,1</text>
<text x="1575.25" y="1517.6" font-size="20" class="tb" textLength="55.02" lengthAdjust="spacingAndGlyphs">100,0</text>
<text x="20.04" y="1548.5" font-size="16.6" class="tb" textLength="1437.99" lengthAdjust="spacingAndGlyphs">setting 1: preset elements: C(not unfolding),O,Mg,Al,Si,Ca,Cr,Fe,Ni; optional elements: Na,P,S,K,Ti,Mn,Co,Cu,Zn (values normalized to 100%; measurement poorly calibrated)</text>
</g>
</svg></body></html>
